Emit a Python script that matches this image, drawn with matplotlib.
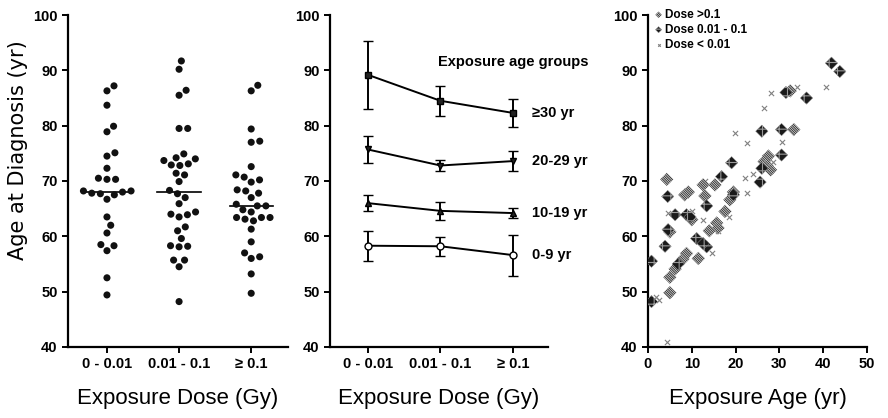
import matplotlib
matplotlib.use('Agg')
import matplotlib.pyplot as plt
import numpy as np

plt.rcParams['font.family'] = ['Liberation Sans', 'DejaVu Sans']
plt.rcParams['hatch.linewidth'] = 0.8

#######################################################
# Left panel: age at diagnosis by exposure dose group
dose_labels = ['0 - 0.01', '0.01 - 0.1', '\u2265 0.1']
age_low = [87.2, 86.3, 83.7, 79.9, 78.9, 75.1, 74.5, 72.3, 70.5, 70.3, 70.3,
           68.0, 67.5, 67.7, 68.2, 68.2, 67.8, 66.7, 63.5, 62.0, 60.6, 58.5,
           58.3, 57.4, 52.5, 49.4]
age_mid = [91.7, 90.2, 86.4, 85.5, 79.5, 79.5, 74.9, 74.0, 73.1, 73.7, 72.9,
           74.2, 72.8, 71.4, 71.1, 69.9, 68.3, 67.7, 67.0, 65.9, 64.0, 63.5,
           63.9, 64.4, 61.7, 61.0, 59.6, 58.3, 58.1, 58.2, 55.7, 55.7, 54.5, 48.2]
age_high = [86.3, 87.3, 79.4, 77.0, 77.2, 72.6, 70.7, 69.8, 70.2, 71.1, 68.2,
            67.8, 68.4, 67.0, 64.4, 65.8, 65.5, 65.5, 64.8, 63.4, 63.4, 63.4,
            62.8, 63.1, 61.3, 59.0, 57.0, 56.0, 56.3, 53.2, 49.7]

# Middle panel: mean age at diagnosis by exposure age group
group_names = ['\u226530 yr', '20-29 yr', '10-19 yr', '0-9 yr']
mean_30 = [89.2, 84.5, 82.3]
err_30 = [6.1, 2.7, 2.5]
mean_20 = [75.7, 72.8, 73.6]
err_20 = [2.4, 1.0, 1.75]
mean_10 = [66.0, 64.6, 64.2]
err_10 = [1.4, 1.65, 0.9]
mean_0 = [58.3, 58.2, 56.6]
err_0 = [2.7, 1.75, 3.7]

# Right panel: age at diagnosis vs exposure age
hi_exp = [4.3, 5.0, 5.0, 5.0, 6.2, 8.0, 8.8, 8.4, 10.0, 11.5, 12.6, 13.0, 15.3,
          15.7, 16.0, 17.6, 18.7, 19.5, 26.5, 27.2, 27.5, 33.3, 32.5, 28.0, 9.2, 14.0]
hi_age = [70.3, 60.8, 49.8, 52.6, 54.1, 55.9, 56.9, 67.5, 63.0, 56.0, 69.3, 67.3,
          69.3, 62.4, 61.5, 64.5, 66.6, 68.0, 73.5, 72.8, 74.5, 79.3, 86.3, 72.0, 68.0, 61.0]
mid_exp = [0.8, 0.8, 3.9, 4.5, 6.2, 8.8, 9.6, 11.1, 13.4, 13.4, 16.8, 19.1, 19.5,
           25.6, 26.0, 26.0, 30.5, 30.5, 31.5, 36.2, 41.9, 43.8, 6.9, 12.6, 4.6]
mid_age = [55.5, 48.2, 58.2, 67.2, 63.9, 63.9, 63.5, 59.6, 58.1, 65.5, 70.8, 73.3,
           67.5, 69.8, 79.0, 72.3, 79.3, 74.7, 86.0, 85.0, 91.3, 89.8, 55.0, 58.7, 61.2]
low_exp = [1.9, 2.5, 4.6, 12.5, 13.0, 14.6, 19.9, 22.7, 22.2, 22.5, 24.0, 26.6,
           28.0, 30.5, 34.0, 40.7, 28.5, 16.0, 4.4, 18.5, 10.0]
low_age = [49.0, 48.5, 64.2, 63.0, 70.0, 57.0, 78.6, 76.9, 70.6, 67.8, 71.2, 83.2,
           85.9, 77.0, 87.0, 87.0, 73.5, 61.0, 40.9, 63.5, 64.5]


def swarm_offsets(vals, ypx=5.53, xpx=72.0, d=8.6):
    # simple beeswarm, done in pixel units, returns x offsets in data units
    vals = np.asarray(vals, float)
    placed = []
    offs = np.zeros(len(vals))
    for i in np.argsort(vals):
        y = vals[i] * ypx
        cands = [0.0]
        for py, px in placed:
            dy = abs(y - py)
            if dy < d:
                dx = np.sqrt(d * d - dy * dy)
                cands += [px + dx, px - dx]
        cands = sorted(cands, key=abs)
        for c in cands:
            if all((c - px) ** 2 + (y - py) ** 2 >= d * d - 1e-6 for py, px in placed):
                break
        placed.append((y, c))
        offs[i] = c / xpx
    return offs


def style_axis(ax):
    for s in ['top', 'right']:
        ax.spines[s].set_visible(False)
    for s in ['left', 'bottom']:
        ax.spines[s].set_linewidth(1.6)
    ax.set_ylim(40, 100)
    ax.set_yticks(np.arange(40, 101, 10))
    ax.tick_params(width=1.4, length=4, labelsize=10.5)
    for t in ax.get_xticklabels() + ax.get_yticklabels():
        t.set_fontweight('bold')


fig = plt.figure(figsize=(8.88, 4.18), dpi=100)

#######################################################
ax1 = fig.add_axes([0.0766, 0.170, 0.2477, 0.794])
for k, vals in enumerate([age_low, age_mid, age_high]):
    xpos = k + 1 + swarm_offsets(vals)
    ax1.scatter(xpos, vals, s=26, color='#111111', edgecolors='none', zorder=3)
    med = np.median(vals)
    ax1.plot([k + 1 - 0.3, k + 1 + 0.3], [med, med], color='black', lw=1.2, zorder=2)
ax1.set_xlim(0.46, 3.51)
ax1.set_xticks([1, 2, 3])
ax1.set_xticklabels(dose_labels)
style_axis(ax1)
ax1.set_ylabel('Age at Diagnosis (yr)', fontsize=15, family='DejaVu Sans')
ax1.yaxis.set_label_coords(-0.18, 0.593)
ax1.set_xlabel('Exposure Dose (Gy)', fontsize=16, labelpad=12)

#######################################################
ax2 = fig.add_axes([0.3716, 0.170, 0.2455, 0.794])
xs = [1, 2, 3]
markers = ['s', 'v', '^', 'o']
faces = ['#222222', '#222222', '#222222', 'white']
for means, errs, mk, fc, name in zip([mean_30, mean_20, mean_10, mean_0],
                                     [err_30, err_20, err_10, err_0],
                                     markers, faces, group_names):
    ax2.errorbar(xs, means, yerr=errs, color='black', lw=1.4, elinewidth=1.4,
                 capsize=3.5, capthick=1.4, marker=mk, markersize=5,
                 markerfacecolor=fc, markeredgecolor='black', markeredgewidth=1.0)
    ax2.text(3.26, means[-1], name, fontsize=10.5, fontweight='bold', va='center', ha='left')
ax2.text(1.97, 91.5, 'Exposure age groups', fontsize=10.5, fontweight='bold', va='center', ha='left')
ax2.set_xlim(0.48, 3.48)
ax2.set_xticks(xs)
ax2.set_xticklabels(dose_labels)
style_axis(ax2)
ax2.set_xlabel('Exposure Dose (Gy)', fontsize=16, labelpad=12)

#######################################################
ax3 = fig.add_axes([0.7297, 0.170, 0.2466, 0.794])
h1 = ax3.scatter(hi_exp, hi_age, marker='D', s=46, facecolors='white', edgecolors='#3a3a3a',
                 hatch='\\' * 14, linewidths=0, label='Dose >0.1', zorder=3)
h2 = ax3.scatter(mid_exp, mid_age, marker='D', s=40, facecolors='#1a1a1a', edgecolors='#9a9a9a',
                 hatch='++', linewidths=0.3, label='Dose 0.01 - 0.1', zorder=4)
h3 = ax3.scatter(low_exp, low_age, marker='x', s=14, color='#808080', linewidths=0.8,
                 label='Dose < 0.01', zorder=2)
ax3.set_xlim(0, 50)
ax3.set_xticks(np.arange(0, 51, 10))
style_axis(ax3)
ax3.set_xlabel('Exposure Age (yr)', fontsize=16, labelpad=12)
ax3.legend(handles=[h1, h2, h3], loc='upper left', bbox_to_anchor=(0.0, 1.04), frameon=False,
           prop={'size': 8.5, 'weight': 'bold'}, handlelength=0.6, handletextpad=0.2,
           labelspacing=0.25, borderaxespad=0.2, markerscale=0.5)

plt.savefig('out.png', dpi=100)
